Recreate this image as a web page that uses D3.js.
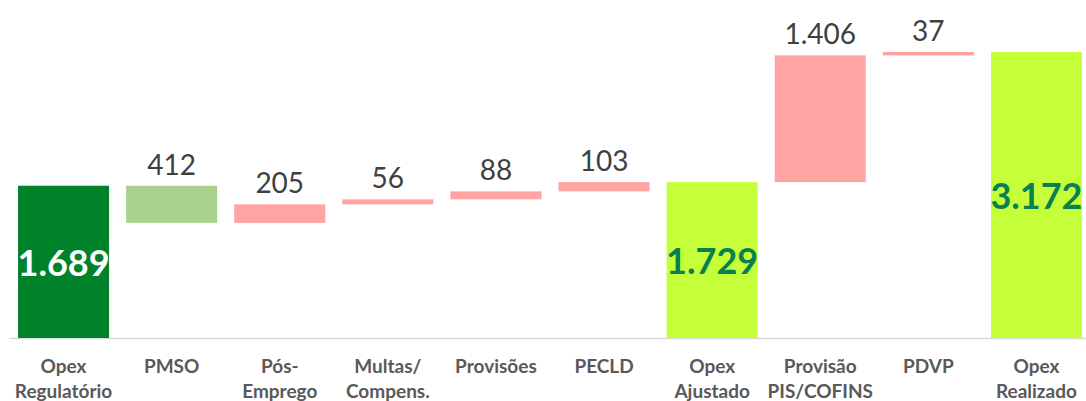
<!DOCTYPE html>
<html>
<head>
<meta charset="utf-8">
<script src="https://cdn.jsdelivr.net/npm/d3@7"></script>
<style>
    body { margin: 0; background: #fff; }
    svg { display: block; }
    .cat-label { font-family: Lato, "Open Sans", sans-serif; font-weight: 700; font-size: 19px; fill: #595959; }
    .value-label { font-family: Lato, "Open Sans", sans-serif; font-size: 28px; fill: #404040; }
    .total-label { font-family: Lato, "Open Sans", sans-serif; font-weight: 700; font-size: 36px; }
</style>
</head>
<body>
<div id="chart"></div>
<script>
/* Waterfall: Opex Regulatório -> Opex Realizado */

const categories = [
    ["Opex", "Regulatório"], ["PMSO"], ["Pós-", "Emprego"], ["Multas/", "Compens."],
    ["Provisões"], ["PECLD"], ["Opex", "Ajustado"], ["Provisão", "PIS/COFINS"],
    ["PDVP"], ["Opex", "Realizado"]
];
// kind: total = bar from zero, down = decrease, up = increase
const kinds = ["total", "down", "up", "up", "up", "up", "total", "up", "up", "total"];
const values = [1689, 412, 205, 56, 88, 103, 1729, 1406, 37, 3172];
const valueLabels = ["1.689", "412", "205", "56", "88", "103", "1.729", "1.406", "37", "3.172"];

const W = 1086, H = 401;
const baseY = 338;

const svg = d3.select("#chart").append("svg")
    .attr("width", W)
    .attr("height", H);

const x = d3.scaleBand()
    .domain(d3.range(categories.length))
    .range([9.5, 1090.5])
    .paddingInner(0.158)
    .paddingOuter(0.079);

const y = d3.scaleLinear()
    .domain([0, 3749])
    .range([baseY, 0]);

// running totals -> floating segments
let running = 0;
const steps = values.map((v, i) => {
    let lo, hi;
    if (kinds[i] === "total") { lo = 0; hi = v; running = v; }
    else if (kinds[i] === "down") { hi = running; lo = running - v; running = lo; }
    else { lo = running; hi = running + v; running = hi; }
    return { i, lo, hi, kind: kinds[i] };
});

function barColor(d) {
    if (d.kind === "total") return d.i === 0 ? "#00822b" : "#c5ff3a";
    return d.kind === "down" ? "#a9d18e" : "#ffa3a3";
}

// axis line
svg.append("line")
    .attr("x1", 9).attr("x2", W)
    .attr("y1", baseY + 0.5).attr("y2", baseY + 0.5)
    .attr("stroke", "#d9d9d9")
    .attr("stroke-width", 1.5);

svg.selectAll(".bar")
    .data(steps)
    .enter()
    .append("rect")
    .attr("class", "bar")
    .attr("x", d => x(d.i))
    .attr("width", x.bandwidth())
    .attr("y", d => y(d.hi))
    .attr("height", d => y(d.lo) - y(d.hi))
    .attr("fill", barColor);

// labels above floating bars
svg.selectAll(".value-label")
    .data(steps.filter(d => d.kind !== "total"))
    .enter()
    .append("text")
    .attr("class", "value-label")
    .attr("x", d => x(d.i) + x.bandwidth() / 2)
    .attr("y", d => y(d.hi) - 11)
    .attr("text-anchor", "middle")
    .text(d => valueLabels[d.i]);

// labels inside total bars
svg.selectAll(".total-label")
    .data(steps.filter(d => d.kind === "total"))
    .enter()
    .append("text")
    .attr("class", "total-label")
    .attr("x", d => x(d.i) + x.bandwidth() / 2)
    .attr("y", d => (y(d.hi) + y(d.lo)) / 2 + 14)
    .attr("text-anchor", "middle")
    .attr("fill", d => d.i === 0 ? "#ffffff" : "#0a7f4f")
    .text(d => valueLabels[d.i]);

// category labels
const cat = svg.selectAll(".cat-label")
    .data(categories)
    .enter()
    .append("text")
    .attr("class", "cat-label")
    .attr("text-anchor", "middle")
    .attr("transform", (d, i) => `translate(${x(i) + x.bandwidth() / 2},${baseY + 35})`);

cat.selectAll("tspan")
    .data(d => d)
    .enter()
    .append("tspan")
    .attr("x", 0)
    .attr("dy", (d, j) => j === 0 ? 0 : 25)
    .text(d => d);
</script>
</body>
</html>
